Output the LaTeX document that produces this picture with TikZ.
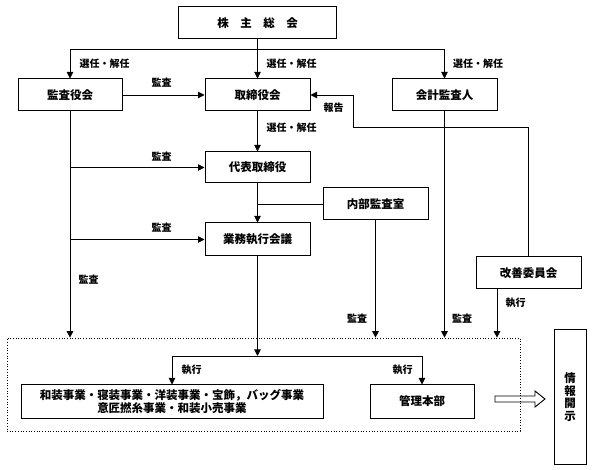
\documentclass[tikz,border=0pt]{standalone}
\usepackage{fontspec}
\newfontfamily\jp{Noto Sans CJK JP}
\usetikzlibrary{arrows.meta,calc}
\tikzset{
  box/.style={draw, line width=1pt, minimum width=105pt, minimum height=32pt, inner sep=0pt,
    font=\jp\bfseries\fontsize{11.5}{13}\selectfont, align=center},
  lbl/.style={inner sep=0pt, font=\jp\bfseries\fontsize{10}{12}\selectfont},
  arr/.style={-{Triangle[width=6.5pt,length=6.5pt]}, line width=0.9pt},
  ln/.style={line width=0.9pt},
  grp/.style={draw, dotted, line width=0.7pt, inner sep=0pt}
}
\begin{document}
\begin{tikzpicture}[x=1pt,y=-1pt]
\useasboundingbox (0,0) rectangle (592,470);
% boxes
\node[box, minimum width=158pt] (soukai) at (257.5,23) {株　主　総　会};
\node[box, minimum width=104pt] (kansa) at (70,95) {監査役会};
\node[box] (tori) at (257.5,95) {取締役会};
\node[box] (kaikei) at (444.5,95) {会計監査人};
\node[box, minimum height=31pt] (daihyo) at (257.5,167.5) {代表取締役};
\node[box] (naibu) at (375.5,204) {内部監査室};
\node[box, minimum height=33pt] (gyomu) at (257.5,239.5) {業務執行会議};
\node[box] (kaizen) at (528.5,273) {改善委員会};
\node[grp, minimum width=513pt, minimum height=93pt] (grp) at (263.5,384.5) {};
\node[box, minimum width=302pt, minimum height=33pt] (wasou) at (172,401.5) {和装事業・寝装事業・洋装事業・宝飾，バッグ事業\\意匠撚糸事業・和装小売事業};
\node[box, minimum width=104pt, minimum height=33pt] (kanri) at (422,401.5) {管理本部};
\node[box, minimum width=32pt, minimum height=134pt, font=\jp\bfseries\fontsize{11.5}{12.6}\selectfont] (joho) at (570,397) {情\\報\\開\\示};
% coordinates
\coordinate (j1) at (257.5,49);
\coordinate (r1) at (353,127);
\coordinate (e0) at (257.5,356);
\coordinate (k1) at ($(kaizen.south)+(-31.5,0)$);
% connectors
\draw[arr] (soukai.south) -- (tori.north);
\draw[arr] (j1) -| (kansa.north);
\draw[arr] (j1) -| (kaikei.north);
\draw[arr] (kansa.east) -- (tori.west);
\draw[arr] (kaizen.north) |- (r1) |- (tori.east);
\draw[arr] (kaikei.south) -- (kaikei.south |- grp.north);
\draw[arr] (tori.south) -- (daihyo.north);
\draw[arr] (kansa.south) -- (kansa.south |- grp.north);
\draw[arr] (kansa.south |- daihyo.west) -- (daihyo.west);
\draw[arr] (kansa.south |- gyomu.west) -- (gyomu.west);
\draw[arr] (daihyo.south) -- (gyomu.north);
\draw[ln] (naibu.west) -- (daihyo.south |- naibu.west);
\draw[arr] (naibu.south) -- (naibu.south |- grp.north);
\draw[arr] (k1) -- (k1 |- grp.north);
\draw[arr] (gyomu.south) -- (e0);
\draw[arr] (e0) -| (wasou.north);
\draw[arr] (e0) -| (kanri.north);
% open arrow
\draw[line width=0.9pt] (495,396) -- (535,396) -- (535,391) -- (545,399) -- (535,407) -- (535,402) -- (495,402) -- cycle;
% labels
\node[lbl] (l1) at (104.5,64) {選任・解任};
\node[lbl] (l2) at (291.5,64) {選任・解任};
\node[lbl] (l3) at (478,64) {選任・解任};
\node[lbl] (l4) at (291.5,128) {選任・解任};
\node[lbl] (l5) at (161.5,83) {監査};
\node[lbl] (l6) at (161.5,157) {監査};
\node[lbl] (l7) at (161.5,228) {監査};
\node[lbl] (l8) at (88.5,280) {監査};
\node[lbl] (l9) at (357,319) {監査};
\node[lbl] (l10) at (462,319) {監査};
\node[lbl] (l11) at (333.5,108) {報告};
\node[lbl] (l12) at (515.5,303) {執行};
\node[lbl] (l13) at (191.5,370) {執行};
\node[lbl] (l14) at (402.5,370) {執行};
\end{tikzpicture}
\end{document}
